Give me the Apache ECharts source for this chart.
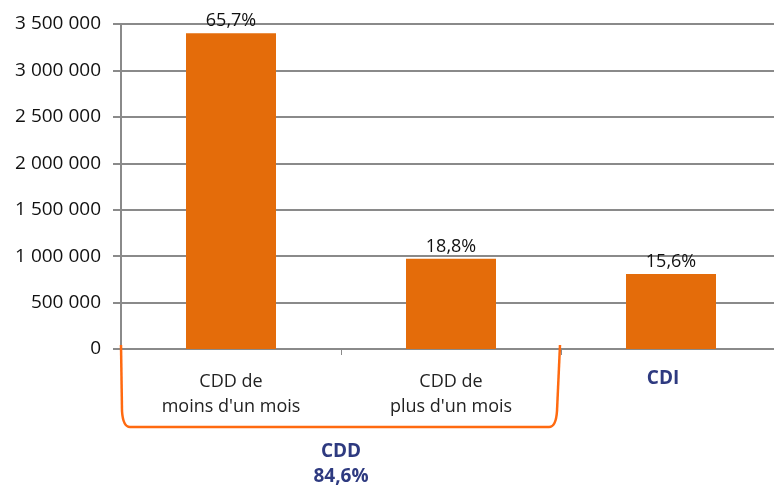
<!DOCTYPE html>
<html>
<head>
<meta charset="utf-8">
<script src="https://cdn.jsdelivr.net/npm/echarts@6/dist/echarts.min.js"></script>
<style>
html,body{margin:0;padding:0;background:#fff;overflow:hidden;}
#c{width:782px;height:485px;}
</style>
</head>
<body>
<div id="c"></div>
<script>
var categories = ["CDD de\nmoins d'un mois", "CDD de\nplus d'un mois", "CDI"];
var values = [3400000, 973000, 807000];
var shares = ["65,7%", "18,8%", "15,6%"];
var groupLabel = ["CDD", "84,6%"];
var yMax = 3500000;
var yStep = 500000;

var FONT = "Open Sans";
var chart = echarts.init(document.getElementById('c'));

function fmt(v){
  return String(v).replace(/\B(?=(\d{3})+(?!\d))/g, ' ');
}

chart.setOption({
  animation: false,
  backgroundColor: '#fff',
  grid: { left: 121, top: 24, width: 660, height: 325, containLabel: false },
  xAxis: {
    type: 'category',
    data: categories,
    axisLine: { show: true, lineStyle: { color: '#8a8a8a', width: 2 } },
    axisTick: { show: true, alignWithLabel: false, length: 6, lineStyle: { color: '#8a8a8a', width: 1 } },
    axisLabel: {
      margin: 20,
      interval: 0,
      fontFamily: FONT,
      fontSize: 18,
      color: '#222222',
      lineHeight: 25,
      formatter: function (v) {
        if (v === 'CDI') return '{b|' + v + '}';
        return v;
      },
      rich: {
        b: { fontFamily: FONT, fontSize: 19, fontWeight: 'bold', color: '#2e3a80', lineHeight: 25, padding: [0, 16, 6, 0] }
      }
    }
  },
  yAxis: {
    type: 'value',
    min: 0,
    max: yMax,
    interval: yStep,
    axisLine: { show: true, lineStyle: { color: '#8a8a8a', width: 2 } },
    axisTick: { show: true, length: 8, lineStyle: { color: '#8a8a8a', width: 2 } },
    splitLine: { show: true, lineStyle: { color: '#8a8a8a', width: 2 } },
    axisLabel: {
      margin: 20,
      fontFamily: FONT,
      fontSize: 19,
      color: '#111111',
      formatter: fmt
    }
  },
  series: [{
    type: 'bar',
    data: values,
    barWidth: 90,
    itemStyle: { color: '#e46c0a' },
    label: {
      show: true,
      position: 'top',
      distance: 3,
      fontFamily: FONT,
      fontSize: 18,
      color: '#111111',
      formatter: function (p) { return shares[p.dataIndex]; }
    }
  }]
});

// bracket and group label computed from the axis scale
var c0 = chart.convertToPixel({ xAxisIndex: 0 }, 0);
var c1 = chart.convertToPixel({ xAxisIndex: 0 }, 1);
var band = c1 - c0;
var x0 = c0 - band / 2;
var x1 = c1 + band / 2;
var yAx = chart.convertToPixel({ yAxisIndex: 0 }, 0);
var yTop = yAx - 4;
var yBot = yAx + 78;
var st = { stroke: '#ff6a10', lineWidth: 2.5, fill: null };

chart.setOption({
  graphic: [
    { type: 'line', z: 10, shape: { x1: x0, y1: yTop, x2: x0 + 1, y2: yBot - 16 }, style: st },
    { type: 'bezierCurve', z: 10, shape: { x1: x0 + 1, y1: yBot - 16, cpx1: x0 + 2, cpy1: yBot, x2: x0 + 9, y2: yBot }, style: st },
    { type: 'line', z: 10, shape: { x1: x0 + 9, y1: yBot, x2: x1 - 12, y2: yBot }, style: st },
    { type: 'bezierCurve', z: 10, shape: { x1: x1 - 12, y1: yBot, cpx1: x1 - 5, cpy1: yBot, x2: x1 - 4, y2: yBot - 16 }, style: st },
    { type: 'line', z: 10, shape: { x1: x1 - 4, y1: yBot - 16, x2: x1 - 1, y2: yTop }, style: st },
    {
      type: 'text',
      x: (x0 + x1) / 2,
      y: yAx + 90,
      style: {
        text: groupLabel.join('\n'),
        fontFamily: FONT,
        fontSize: 19,
        fontWeight: 'bold',
        fill: '#2e3a80',
        align: 'center',
        verticalAlign: 'top',
        lineHeight: 25
      }
    }
  ]
});
</script>
</body>
</html>
